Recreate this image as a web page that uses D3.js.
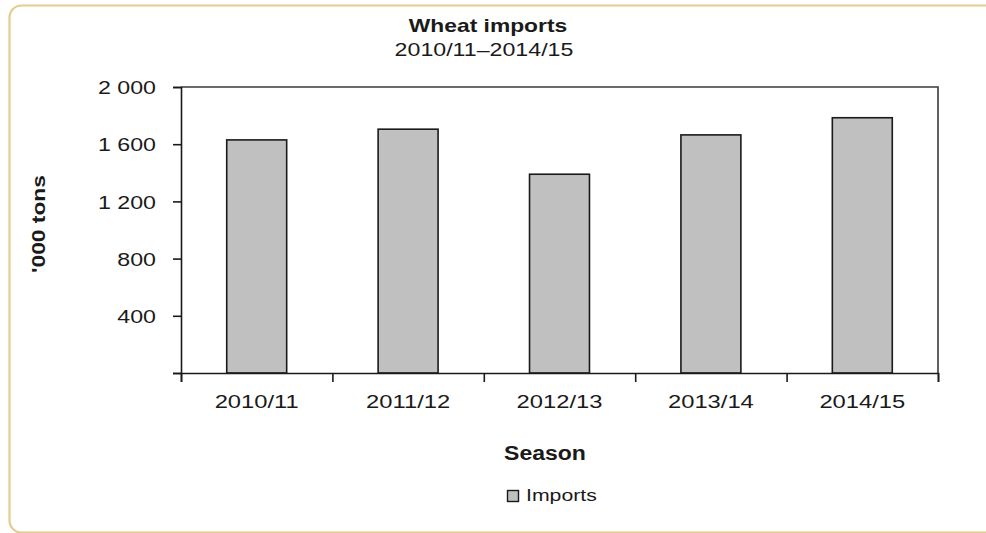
<!DOCTYPE html>
<html><head><meta charset="utf-8">
<script src="https://cdn.jsdelivr.net/npm/d3@7"></script>
<style>
html,body{margin:0;padding:0;background:#fff;}
svg{display:block;}
text{font-family:"Liberation Sans",Arial,sans-serif;fill:#1a1a1a;}
</style></head>
<body>
<svg id="chart" width="986" height="533"></svg>
<script>
const categories = ["2010/11","2011/12","2012/13","2013/14","2014/15"];
const imports = [1630, 1705, 1390, 1665, 1785];
const yTicks = [0, 400, 800, 1200, 1600, 2000];
const yTickLabels = ["", "400", "800", "1 200", "1 600", "2 000"];
const titleText = "Wheat imports";
const subtitleText = "2010/11\u20132014/15";
const xTitle = "Season";
const yTitle = "'000 tons";
const seriesName = "Imports";

const svg = d3.select("#chart");
const K = 1.22; // horizontal stretch of reference text

function stretch(sel, k) {
  sel.each(function(){
    const len = this.getComputedTextLength();
    d3.select(this).attr("textLength", len * (k||K)).attr("lengthAdjust","spacingAndGlyphs");
  });
}

// outer rounded border
svg.append("rect").attr("x",9.5).attr("y",5.5).attr("width",1000).attr("height",527)
  .attr("rx",12).attr("ry",12).attr("fill","none").attr("stroke","#e3cc8c").attr("stroke-width",2.2);

const L=181, R=938, T=87, B=373;
const x = d3.scaleBand().domain(categories).range([L,R]).paddingInner(0.604).paddingOuter(0.302);
const y = d3.scaleLinear().domain([0,2000]).range([B,T]);

// plot frame (top/right)
svg.append("path").attr("d",`M${L},${T}H${R}V${B}`).attr("fill","none").attr("stroke","#3a3a3a").attr("stroke-width",1.6);

// bars
svg.append("g").selectAll("rect").data(imports).join("rect")
  .attr("x",(d,i)=>x(categories[i])).attr("width",x.bandwidth())
  .attr("y",d=>y(d)).attr("height",d=>B-y(d))
  .attr("fill","#c0c0c0").attr("stroke","#1a1a1a").attr("stroke-width",1.6);

// y axis
const yAxis = svg.append("g").attr("transform",`translate(${L},0)`)
  .call(d3.axisLeft(y).tickValues(yTicks).tickSize(8).tickPadding(10).tickFormat((d,i)=>yTickLabels[i]));
yAxis.select(".domain").attr("stroke","#1a1a1a").attr("stroke-width",1.6);
yAxis.selectAll(".tick line").attr("stroke","#1a1a1a").attr("stroke-width",1.6);
yAxis.selectAll(".tick text").attr("font-size",19).attr("font-family","Liberation Sans, Arial, sans-serif").attr("fill","#1a1a1a").attr("x",-25).attr("dy","0.35em");
yAxis.selectAll(".tick text").each(function(){ stretch(d3.select(this)); });

// x axis (boundary ticks via a linear index scale)
const xb = d3.scaleLinear().domain([0,categories.length]).range([L,R]);
const xAxisT = svg.append("g").attr("transform",`translate(0,${B})`)
  .call(d3.axisBottom(xb).tickValues(d3.range(categories.length+1)).tickSize(9).tickFormat(""));
xAxisT.select(".domain").attr("stroke","#1a1a1a").attr("stroke-width",1.6);
xAxisT.selectAll(".tick line").attr("stroke","#1a1a1a").attr("stroke-width",1.6);
const xAxisL = svg.append("g").attr("transform",`translate(0,${B})`)
  .call(d3.axisBottom(x).tickSize(0).tickPadding(22));
xAxisL.select(".domain").remove();
xAxisL.selectAll(".tick text").attr("font-size",19).attr("font-family","Liberation Sans, Arial, sans-serif").attr("fill","#1a1a1a").attr("dy","0.71em");
xAxisL.selectAll(".tick text").each(function(){ stretch(d3.select(this), 1.25); });

// titles
const t1 = svg.append("text").attr("x",488).attr("y",32).attr("text-anchor","middle")
  .attr("font-size",19).attr("font-weight","bold").text(titleText);
stretch(t1, 1.2);
const t2 = svg.append("text").attr("x",484).attr("y",56).attr("text-anchor","middle")
  .attr("font-size",19).text(subtitleText);
stretch(t2, 1.22);
const xt = svg.append("text").attr("x",545).attr("y",460).attr("text-anchor","middle")
  .attr("font-size",20).attr("font-weight","bold").text(xTitle);
stretch(xt, 1.15);
const yt = svg.append("text").attr("transform","translate(45,224) rotate(-90)").attr("text-anchor","middle")
  .attr("font-size",19).attr("font-weight","bold").text(yTitle);
stretch(yt, 1.2);

// legend
const lg = svg.append("g");
lg.append("rect").attr("x",507.5).attr("y",490.5).attr("width",11).attr("height",11)
  .attr("fill","#c0c0c0").attr("stroke","#1a1a1a").attr("stroke-width",1.4);
const lt = lg.append("text").attr("x",526).attr("y",501).attr("font-size",17).text(seriesName);
stretch(lt, 1.25);
</script>
</body></html>
